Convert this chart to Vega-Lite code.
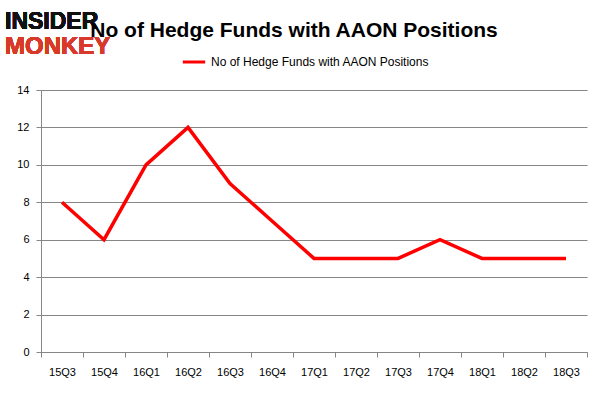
{
  "$schema": "https://vega.github.io/schema/vega-lite/v6.json",
  "width": 546,
  "height": 262,
  "autosize": {"type": "none"},
  "padding": {"left": 41, "top": 90, "right": 15, "bottom": 46},
  "background": "white",
  "title": {
    "text": "No of Hedge Funds with AAON Positions",
    "anchor": "middle",
    "frame": "group",
    "dx": -20,
    "offset": 0,
    "dy": 30,
    "font": "Liberation Sans",
    "fontSize": 21,
    "fontWeight": "bold",
    "color": "#000000"
  },
  "data": {
    "values": [
      {"quarter": "15Q3", "funds": 8, "series": "No of Hedge Funds with AAON Positions"},
      {"quarter": "15Q4", "funds": 6, "series": "No of Hedge Funds with AAON Positions"},
      {"quarter": "16Q1", "funds": 10, "series": "No of Hedge Funds with AAON Positions"},
      {"quarter": "16Q2", "funds": 12, "series": "No of Hedge Funds with AAON Positions"},
      {"quarter": "16Q3", "funds": 9, "series": "No of Hedge Funds with AAON Positions"},
      {"quarter": "16Q4", "funds": 7, "series": "No of Hedge Funds with AAON Positions"},
      {"quarter": "17Q1", "funds": 5, "series": "No of Hedge Funds with AAON Positions"},
      {"quarter": "17Q2", "funds": 5, "series": "No of Hedge Funds with AAON Positions"},
      {"quarter": "17Q3", "funds": 5, "series": "No of Hedge Funds with AAON Positions"},
      {"quarter": "17Q4", "funds": 6, "series": "No of Hedge Funds with AAON Positions"},
      {"quarter": "18Q1", "funds": 5, "series": "No of Hedge Funds with AAON Positions"},
      {"quarter": "18Q2", "funds": 5, "series": "No of Hedge Funds with AAON Positions"},
      {"quarter": "18Q3", "funds": 5, "series": "No of Hedge Funds with AAON Positions"}
    ]
  },
  "layer": [
    {
      "mark": {"type": "line", "strokeWidth": 3.5, "strokeJoin": "miter", "strokeCap": "butt"},
      "encoding": {
        "x": {
          "field": "quarter",
          "type": "ordinal",
          "sort": null,
          "bandPosition": 0.5,
          "scale": {"type": "band", "paddingInner": 0, "paddingOuter": 0},
          "axis": {
            "title": null,
            "labelAngle": 0,
            "tickBand": "extent",
            "grid": false,
            "domainColor": "#868686",
            "tickColor": "#868686",
            "tickSize": 5,
            "labelPadding": 9,
            "labelOverlap": false,
            "labelFont": "Liberation Sans",
            "labelFontSize": 11,
            "labelColor": "#000000"
          }
        },
        "y": {
          "field": "funds",
          "type": "quantitative",
          "scale": {"domain": [0, 14]},
          "axis": {
            "title": null,
            "values": [0, 2, 4, 6, 8, 10, 12, 14],
            "tickCount": 8,
            "labelOverlap": false,
            "grid": true,
            "gridColor": "#868686",
            "domainColor": "#868686",
            "tickColor": "#868686",
            "tickSize": 5,
            "labelPadding": 7,
            "labelFont": "Liberation Sans",
            "labelFontSize": 11,
            "labelColor": "#000000"
          }
        },
        "color": {
          "field": "series",
          "type": "nominal",
          "scale": {"range": ["#ff0000"]},
          "legend": {
            "title": null,
            "orient": "none",
            "legendX": 140,
            "legendY": -41,
            "symbolType": "stroke",
            "symbolSize": 500,
            "symbolStrokeWidth": 3,
            "labelLimit": 400,
            "labelFont": "Liberation Sans",
            "labelFontSize": 12,
            "labelColor": "#000000",
            "labelOffset": 4
          }
        }
      }
    },
    {
      "mark": {"type": "text", "text": "INSIDER", "align": "left", "baseline": "alphabetic", "dx": -36, "font": "Liberation Sans", "fontSize": 23, "fontWeight": "bold", "color": "#111111"},
      "encoding": {
        "x": {"datum": "15Q3", "type": "ordinal", "bandPosition": 0},
        "y": {
          "datum": 17.25,
          "axis": {
            "title": null,
            "values": [0, 2, 4, 6, 8, 10, 12, 14],
            "tickCount": 8,
            "labelOverlap": false,
            "grid": true,
            "gridColor": "#868686",
            "domainColor": "#868686",
            "tickColor": "#868686",
            "tickSize": 5,
            "labelPadding": 7,
            "labelFont": "Liberation Sans",
            "labelFontSize": 11,
            "labelColor": "#000000"
          }
        }
      }
    },
    {
      "mark": {"type": "text", "text": "MONKEY", "align": "left", "baseline": "alphabetic", "dx": -36, "font": "Liberation Sans", "fontSize": 24, "fontWeight": "bold", "color": "#d9392b"},
      "encoding": {
        "x": {"datum": "15Q3", "type": "ordinal", "bandPosition": 0},
        "y": {
          "datum": 15.95,
          "axis": {
            "title": null,
            "values": [0, 2, 4, 6, 8, 10, 12, 14],
            "tickCount": 8,
            "labelOverlap": false,
            "grid": true,
            "gridColor": "#868686",
            "domainColor": "#868686",
            "tickColor": "#868686",
            "tickSize": 5,
            "labelPadding": 7,
            "labelFont": "Liberation Sans",
            "labelFontSize": 11,
            "labelColor": "#000000"
          }
        }
      }
    }
  ],
  "config": {
    "view": {"stroke": null}
  }
}
